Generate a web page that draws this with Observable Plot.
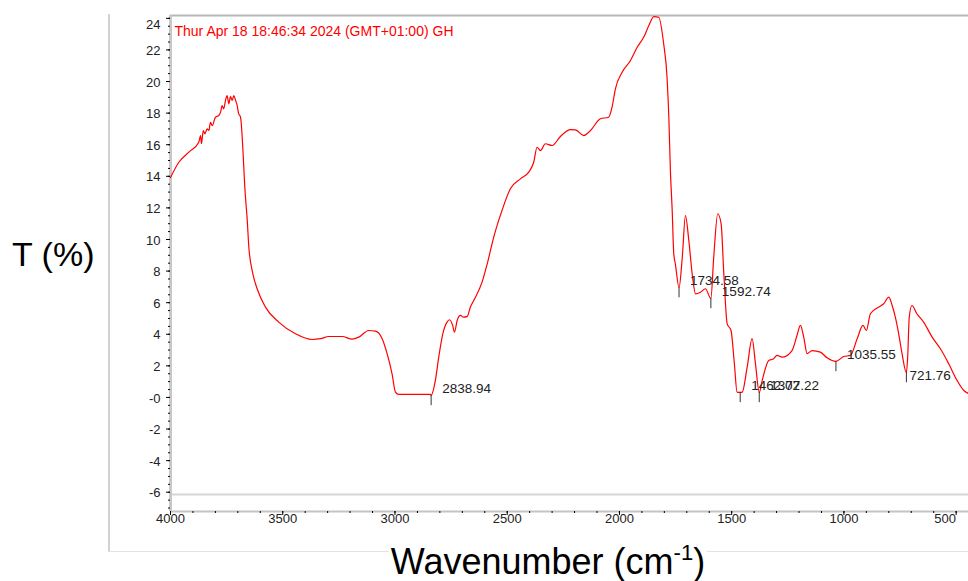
<!DOCTYPE html>
<html>
<head>
<meta charset="utf-8">
<script src="https://cdn.jsdelivr.net/npm/d3@7"></script>
<script src="https://cdn.jsdelivr.net/npm/@observablehq/plot@0.6"></script>
<style>
  html, body { margin: 0; padding: 0; background: #fff; }
  #wrap { position: relative; width: 968px; height: 581px; overflow: hidden; font-family: "Liberation Sans", Arial, sans-serif; }
  #frame { position: absolute; left: 108px; top: 14px; width: 880px; height: 537px;
           border-left: 2px solid #d2d2d2; border-bottom: 1px solid #e2e2e2; pointer-events: none; }
  #ylabel { position: absolute; left: 12px; top: 237px; font-size: 34px; line-height: 34px; color: #000; white-space: nowrap; }
  #xlabel { position: absolute; left: 548px; top: 544px; transform: translateX(-50%); font-size: 36px; line-height: 36px;
            color: #000; white-space: nowrap; background: #fff; padding: 0 2px; }
  #xlabel sup { font-size: 22px; vertical-align: baseline; position: relative; top: -14px; }
</style>
</head>
<body>
<div id="wrap">
  <div id="chart"></div>
  <div id="frame"></div>
  <div id="ylabel">T (%)</div>
  <div id="xlabel">Wavenumber (cm<sup>-1</sup>)</div>
</div>
<script>
// ---- data ----
const wavenumber = [
  4000, 3963, 3918, 3874, 3866, 3862, 3854, 3847, 3837, 3829, 3822, 3814, 3800, 3785, 3777, 3770, 3763, 3755,
  3748, 3740, 3733, 3725, 3718, 3710, 3703, 3697, 3688, 3678, 3669, 3658, 3651, 3633, 3614, 3577, 3518, 3443,
  3369, 3331, 3295, 3235, 3191, 3161, 3117, 3087, 3057, 3035, 3013, 2998, 2983, 2842, 2838.94, 2820, 2805,
  2787, 2768, 2757, 2743, 2735, 2723, 2708, 2694, 2678, 2664, 2649, 2612, 2589, 2560, 2523, 2486, 2441, 2404,
  2382, 2367, 2352, 2330, 2300, 2263, 2218, 2196, 2159, 2129, 2085, 2048, 2033, 2018, 1988, 1951, 1921, 1892,
  1869, 1847, 1825, 1803, 1788, 1780, 1773, 1765, 1758, 1751, 1734.58, 1720, 1706, 1691, 1676, 1661, 1639,
  1617, 1592.74, 1580, 1562, 1547, 1535, 1520, 1503, 1488, 1476, 1462.02, 1453, 1431, 1409, 1394, 1377.22,
  1364, 1335, 1313, 1298, 1275, 1231, 1209, 1194, 1179, 1164, 1142, 1105, 1075, 1035.55, 1001, 971, 941, 915,
  900, 882, 845, 823, 800, 785, 771, 756, 741, 721.76, 716, 709, 697, 675, 645, 607, 570, 533, 496, 466, 445
];
const transmittance = [
  13.92, 14.89, 15.53, 16.16, 16.58, 16.06, 16.90, 16.69, 17.00, 16.90, 17.42, 17.20, 17.74, 17.85, 18.06, 18.48, 18.27, 18.80,
  19.11, 18.59, 19.05, 18.80, 19.11, 18.80, 18.48, 18.00, 17.74, 15.84, 13.31, 11.20, 9.51, 7.83, 6.88, 5.72, 4.77, 4.03,
  3.67, 3.72, 3.86, 3.86, 3.69, 3.82, 4.24, 4.20, 3.72, 2.77, 1.50, 0.34, 0.19, 0.19, 0.13, 1.08, 2.55,
  4.03, 4.77, 4.92, 4.56, 4.13, 4.87, 5.19, 5.08, 5.13, 5.72, 6.14, 7.30, 8.46, 10.15, 11.84, 13.21, 13.84, 14.26,
  14.89, 15.84, 15.63, 16.06, 15.95, 16.52, 16.96, 16.94, 16.58, 16.90, 17.64, 17.74, 18.37, 19.54, 20.59, 21.33, 22.17, 22.80,
  23.54, 24.11, 24.07, 22.39, 20.27, 17.74, 14.37, 11.84, 9.09, 8.46, 6.96, 8.88, 11.52, 9.94, 7.83, 6.56, 6.66,
  6.88, 6.27, 8.88, 11.63, 10.99, 7.83, 4.66, 4.24, 2.13, 0.34, 0.32, 0.34, 1.92, 3.72, 2.13, 0.32,
  1.08, 2.34, 2.45, 2.66, 2.55, 2.97, 3.92, 4.56, 3.82, 2.77, 2.97, 2.87, 2.51, 2.28, 2.59, 2.66, 3.72, 4.56,
  4.24, 5.30, 5.72, 5.93, 6.35, 5.82, 5.08, 4.03, 2.77, 1.58, 2.55, 5.08, 5.82, 5.30, 4.77, 3.82, 3.08, 2.13, 1.08, 0.44, 0.25
];
const peakWavenumbers = [2838.94, 1734.58, 1592.74, 1462.02, 1377.22, 1035.55, 721.76];
const peakTransmittance = [0.13, 6.96, 6.27, 0.32, 0.32, 2.28, 1.58];
const peakLabels = ["2838.94", "1734.58", "1592.74", "1462.02", "1377.22", "1035.55", "721.76"];
const yTicks = [24, 22, 20, 18, 16, 14, 12, 10, 8, 6, 4, 2, 0, -2, -4, -6];
const xTicks = [4000, 3500, 3000, 2500, 2000, 1500, 1000, 500];
const titleText = "Thur Apr 18 18:46:34 2024 (GMT+01:00) GH";
const xDomain = [4000, 445];
const yDomain = [-7.22, 24.18];
const referenceLine = -6.15;

// ---- build ----
const spectrum = wavenumber.map((w, i) => ({w, t: transmittance[i]}));
const peaks = peakWavenumbers.map((w, i) => ({w, t: peakTransmittance[i], label: peakLabels[i]}));
const yMinor = d3.range(-7, 24.01, 0.5);
const xMinor = d3.range(500, 4001, 100);
const yFmt = d => d === 0 ? "-0" : String(d);
const font = "'Liberation Sans', Arial, sans-serif";

const chart = Plot.plot({
  width: 968,
  height: 581,
  marginLeft: 170,
  marginRight: 0,
  marginTop: 15,
  marginBottom: 70,
  style: {fontFamily: font, fontSize: "13px", color: "#222", background: "transparent", overflow: "visible"},
  x: {domain: xDomain, axis: null},
  y: {domain: yDomain, axis: null},
  marks: [
    Plot.ruleY([referenceLine], {stroke: "#d6d6d6", strokeWidth: 2}),
    Plot.ruleY([yDomain[1]], {stroke: "#b8b8b8", strokeWidth: 2}),
    Plot.ruleY([yDomain[0]], {stroke: "#c4c4c4", strokeWidth: 2}),
    Plot.ruleX([xDomain[0]], {stroke: "#c8c8c8", strokeWidth: 3}),
    Plot.axisY(yMinor, {anchor: "left", tickSize: 2, tickFormat: () => "", label: null, stroke: "#000"}),
    Plot.axisY(yTicks, {anchor: "left", tickSize: 4, tickFormat: () => "", label: null, stroke: "#000"}),
    Plot.axisX(xMinor, {anchor: "bottom", tickSize: 2, tickFormat: () => "", label: null, stroke: "#000"}),
    Plot.axisX(xTicks, {anchor: "bottom", tickSize: 4, tickFormat: () => "", label: null, stroke: "#000"}),
    Plot.text(yTicks, {filter: d => d !== 24, y: d => d, frameAnchor: "left", dx: -10, dy: 1, textAnchor: "end",
      text: yFmt, fontSize: 13, fill: "#222"}),
    Plot.text(yTicks, {filter: d => d === 24, y: d => d, frameAnchor: "left", dx: -10, dy: 6, textAnchor: "end",
      text: yFmt, fontSize: 13, fill: "#222"}),
    Plot.text(xTicks, {filter: d => d !== 500, x: d => d, frameAnchor: "bottom", dy: 11, text: String, fontSize: 13, fill: "#222"}),
    Plot.text(xTicks, {filter: d => d === 500, x: d => d, frameAnchor: "bottom", dy: 11, dx: -11, text: String, fontSize: 13, fill: "#222"}),
    Plot.text([titleText], {frameAnchor: "top-left", dx: 4, dy: 11, text: d => d, textAnchor: "start",
      fill: "#ff0000", fontSize: 14}),
    Plot.line(spectrum, {x: "w", y: "t", stroke: "#ff0000", strokeWidth: 1.2, curve: "monotone-x"}),
    Plot.ruleX(peaks, {x: "w", y1: "t", y2: d => d.t - 0.65, stroke: "#333", strokeWidth: 1}),
    Plot.text(peaks, {filter: d => d.label !== "721.76", x: "w", y: "t", text: "label", dx: 11, dy: -7,
      textAnchor: "start", fontSize: 13.5, fill: "#222"}),
    Plot.text(peaks, {filter: d => d.label === "721.76", x: "w", y: "t", text: "label", dx: 3, dy: 3,
      textAnchor: "start", fontSize: 13.5, fill: "#222"})
  ]
});
document.getElementById("chart").appendChild(chart);
</script>
</body>
</html>
